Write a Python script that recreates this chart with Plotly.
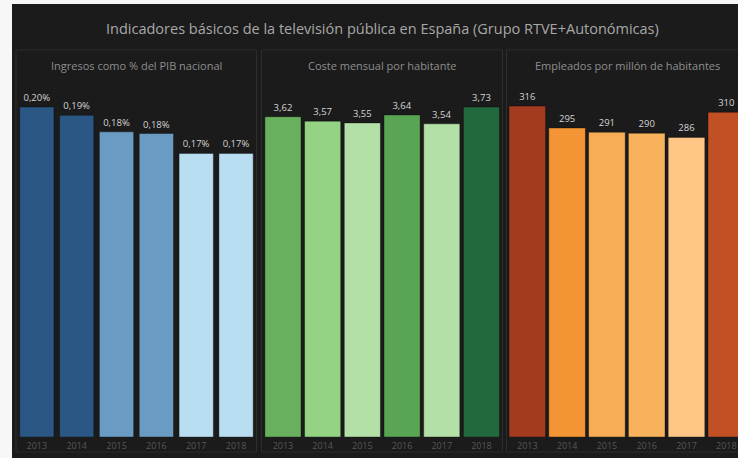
import plotly.graph_objects as go

W, H = 738, 458

years = [2013, 2014, 2015, 2016, 2017, 2018]
year_labels = ["2013", "2014", "2015", "2016", "2017", "2018"]

ingresos_pib = [0.199, 0.194, 0.184, 0.183, 0.171, 0.171]
coste_mensual = [3.62, 3.57, 3.55, 3.64, 3.54, 3.73]
empleados = [316, 295, 291, 290, 286, 310]

colores_ingresos = ["#2a5783", "#2a5783", "#6a9bc3", "#6a9bc3", "#b9ddf1", "#b9ddf1"]
colores_coste = ["#69b05e", "#93d383", "#b3e0a6", "#5aa554", "#b3e0a6", "#24693d"]
colores_empleados = ["#a33b20", "#f49535", "#f7ad56", "#f8b25b", "#ffc685", "#c15124"]

titulo = "Indicadores básicos de la televisión pública en España (Grupo RTVE+Autonómicas)"
subtitulos = ["Ingresos como % del PIB nacional",
              "Coste mensual por habitante",
              "Empleados por millón de habitantes"]


def px_x(p):
    return p / W


def px_y(p):
    return 1 - p / H


fig = go.Figure()

fig.add_trace(go.Bar(
    x=years, y=ingresos_pib, marker_color=colores_ingresos, width=0.86,
    texttemplate="%{y:.2f}%", xaxis="x", yaxis="y",
))
fig.add_trace(go.Bar(
    x=years, y=coste_mensual, marker_color=colores_coste, width=0.91,
    texttemplate="%{y:.2f}", xaxis="x2", yaxis="y2",
))
fig.add_trace(go.Bar(
    x=years, y=empleados, marker_color=colores_empleados, width=0.92,
    texttemplate="%{y:.0f}", xaxis="x3", yaxis="y3",
))
fig.update_traces(
    textposition="outside", cliponaxis=False,
    textfont=dict(size=9.5, color="#d4d4d4", family="Open Sans"),
    marker_line=dict(width=1, color="rgba(0,0,0,0.35)"),
    showlegend=False, hoverinfo="skip",
)

ybot, ytop = px_y(437), px_y(95)
xaxis_common = dict(
    tickvals=years, ticktext=year_labels, showgrid=False, zeroline=False,
    showline=False, ticks="", ticklabelstandoff=2,
    tickfont=dict(size=9, color="#575757", family="Open Sans"),
    fixedrange=True,
)
yaxis_common = dict(visible=False, showgrid=False, zeroline=False)

fig.update_layout(
    width=W, height=H,
    margin=dict(l=0, r=0, t=0, b=0),
    paper_bgcolor="#f7f7f7",
    plot_bgcolor="rgba(0,0,0,0)",
    separators=",.",
    font=dict(family="Open Sans"),
    xaxis=dict(domain=[px_x(16.9), px_x(256)], range=[2012.5, 2018.5], **xaxis_common),
    xaxis2=dict(domain=[px_x(263.1), px_x(501.3)], range=[2012.5, 2018.5], **xaxis_common),
    xaxis3=dict(domain=[px_x(507.4), 1], range=[2012.5, 2012.5 + (W - 507.4) / 39.8],
                **xaxis_common),
    yaxis=dict(domain=[ybot, ytop], range=[0, 0.199 * 342 / 330], **yaxis_common),
    yaxis2=dict(domain=[ybot, ytop], range=[0, 3.73 * 342 / 330], anchor="x2", **yaxis_common),
    yaxis3=dict(domain=[ybot, ytop], range=[0, 316 * 342 / 331], anchor="x3", **yaxis_common),
)
fig.layout.xaxis2.anchor = "y2"
fig.layout.xaxis3.anchor = "y3"

# fondo oscuro y cajas de los paneles
shapes = [dict(type="rect", xref="paper", yref="paper", layer="below",
               x0=px_x(12), x1=1, y0=0, y1=px_y(4),
               fillcolor="#1b1b1b", line_width=0)]
for x0, x1 in [(16, 256.5), (261.5, 502.5), (506.5, 760)]:
    shapes.append(dict(type="rect", xref="paper", yref="paper", layer="below",
                       x0=px_x(x0), x1=px_x(x1), y0=px_y(452), y1=px_y(50),
                       fillcolor="rgba(0,0,0,0)", line=dict(color="#2d2d2d", width=1)))
fig.update_layout(shapes=shapes)

annotations = [dict(text=titulo, x=px_x(382), y=px_y(29), xref="paper", yref="paper",
                    showarrow=False, xanchor="center", yanchor="middle",
                    font=dict(size=14.5, color="#a8a8a8", family="Open Sans"))]
for cx, t in zip([136, 382, 627], subtitulos):
    annotations.append(dict(text=t, x=px_x(cx), y=px_y(65), xref="paper", yref="paper",
                            showarrow=False, xanchor="center", yanchor="middle",
                            font=dict(size=11, color="#8e8e8e", family="Open Sans")))
fig.update_layout(annotations=annotations)

fig.write_html("out.html", config={"displayModeBar": False},
               post_script="document.body.style.margin='0px';")
